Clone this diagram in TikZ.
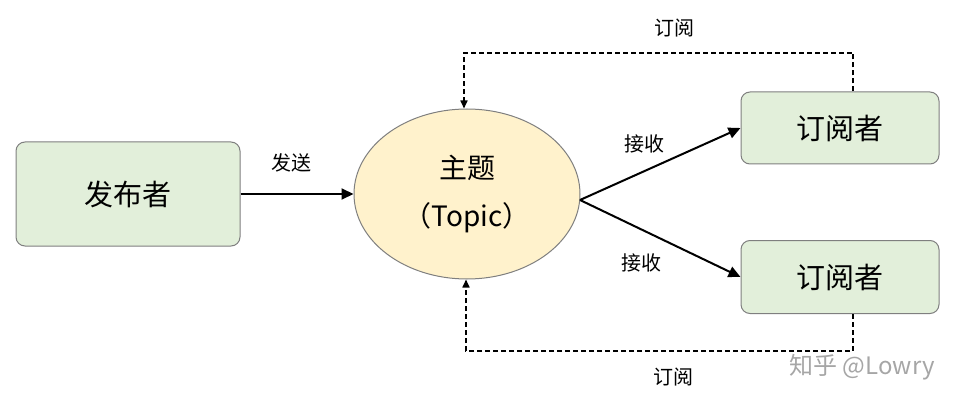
\documentclass[tikz,border=0pt]{standalone}
\usepackage{fontspec}
\setmainfont{Noto Sans CJK SC}
\usetikzlibrary{shapes.geometric,arrows.meta}
\definecolor{boxg}{HTML}{E2EFDA}
\definecolor{ellf}{HTML}{FFF2CC}
\definecolor{bord}{HTML}{7F7F7F}
\begin{document}
\begin{tikzpicture}[x=1pt,y=-1pt,
  box/.style={draw=bord,line width=1pt,fill=boxg,rounded corners=9pt,inner sep=0pt,font=\fontsize{29}{34}\selectfont},
  lbl/.style={font=\fontsize{20}{24}\selectfont},
  arr/.style={line width=2pt,-{Triangle[length=12pt,width=11pt]}},
  dsh/.style={line width=1.6pt,dash pattern=on 5pt off 3pt,-{Triangle[length=8pt,width=7pt]}}]
\useasboundingbox (0,0) rectangle (978,409);
\node[box,minimum width=224pt,minimum height=104pt] (pub) at (128,194) {发布者};
\node[ellipse,draw=bord,line width=1pt,fill=ellf,minimum width=226pt,minimum height=170pt,inner sep=0pt,align=center,font=\fontsize{28}{48}\selectfont] (topic) at (467,194) {主题\\（Topic）};
\node[box,minimum width=198pt,minimum height=72pt] (s1) at (840,128) {订阅者};
\node[box,minimum width=198pt,minimum height=73pt] (s2) at (840,277) {订阅者};
\coordinate (c) at (580,200);
\draw[arr] (pub.east) -- (topic.west);
\draw[arr] (c) -- (s1.west);
\draw[arr] (c) -- (s2.west);
\node[lbl] (ls) at (291,163) {发送};
\node[lbl] (lr1) at (644,144) {接收};
\node[lbl] (lr2) at (641,263) {接收};
\coordinate (t1) at (853,53);
\coordinate (t2) at (464,53);
\draw[dsh] (s1.north -| t1) -- (t1) -- (t2) -- (topic.north -| t2);
\node[lbl] (l1) at (674,28) {订阅};
\coordinate (b1) at (853,351);
\coordinate (b2) at (466,351);
\draw[dsh] (s2.south -| b1) -- (b1) -- (b2) -- (topic.south -| b2);
\node[lbl] (l2) at (673,377) {订阅};
\node[font=\fontsize{24}{28}\selectfont,text=black!35] (wm) at (862,367) {知乎 @Lowry};
\end{tikzpicture}
\end{document}
